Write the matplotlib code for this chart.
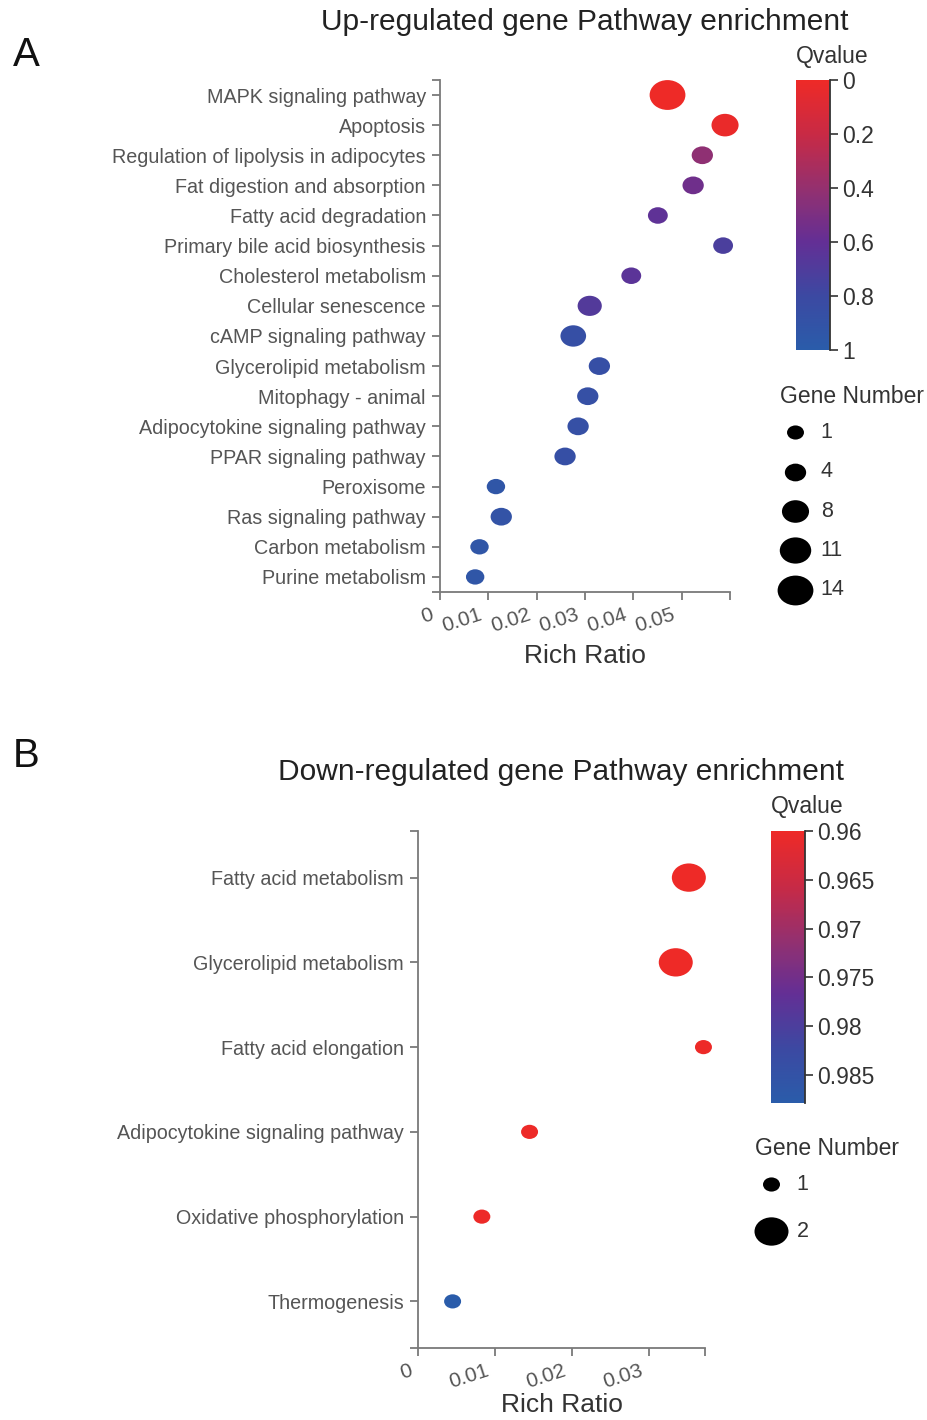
import numpy as np
import matplotlib
matplotlib.use("Agg")
from matplotlib import pyplot as plt
from matplotlib.colors import LinearSegmentedColormap, Normalize
from matplotlib.cm import ScalarMappable
from matplotlib.path import Path
from matplotlib.transforms import ScaledTranslation

plt.rcParams['font.family'] = ['Liberation Sans', 'DejaVu Sans']

# ---- panel A: up-regulated ----
up_pathways = ['MAPK signaling pathway', 'Apoptosis', 'Regulation of lipolysis in adipocytes',
               'Fat digestion and absorption', 'Fatty acid degradation',
               'Primary bile acid biosynthesis', 'Cholesterol metabolism', 'Cellular senescence',
               'cAMP signaling pathway', 'Glycerolipid metabolism', 'Mitophagy - animal',
               'Adipocytokine signaling pathway', 'PPAR signaling pathway', 'Peroxisome',
               'Ras signaling pathway', 'Carbon metabolism', 'Purine metabolism']
up_rich = [0.0471, 0.0590, 0.0543, 0.0524, 0.0451, 0.0586, 0.0396, 0.0310, 0.0276,
           0.0330, 0.0306, 0.0286, 0.0259, 0.0116, 0.0127, 0.0082, 0.0073]
up_qvalue = [0.0, 0.02, 0.42, 0.55, 0.62, 0.72, 0.64, 0.68, 0.86, 0.86, 0.87, 0.87,
             0.86, 0.93, 0.9, 0.93, 0.93]
up_genes = [14, 8, 4, 4, 3, 3, 3, 6, 7, 4, 4, 4, 4, 2, 4, 2, 2]
up_legend_genes = [1, 4, 8, 11, 14]
up_xticks = [0, 0.01, 0.02, 0.03, 0.04, 0.05]
up_cbar_ticks = [0, 0.2, 0.4, 0.6, 0.8, 1]

# ---- panel B: down-regulated ----
down_pathways = ['Fatty acid metabolism', 'Glycerolipid metabolism', 'Fatty acid elongation',
                 'Adipocytokine signaling pathway', 'Oxidative phosphorylation', 'Thermogenesis']
down_rich = [0.0352, 0.0335, 0.0371, 0.0145, 0.0083, 0.0045]
down_qvalue = [0.9601, 0.9601, 0.9602, 0.9602, 0.9603, 0.9878]
down_genes = [2, 2, 1, 1, 1, 1]
down_legend_genes = [1, 2]
down_xticks = [0, 0.01, 0.02, 0.03]
down_cbar_ticks = [0.96, 0.965, 0.97, 0.975, 0.98, 0.985]

cmap = LinearSegmentedColormap.from_list(
    'qv', [(0, '#ee2a27'), (0.2, '#c82a45'), (0.4, '#94306f'), (0.6, '#632f95'),
           (0.8, '#3c49a2'), (1, '#2a5caa')])

# slightly wide oval marker, like the original
circ = Path.unit_circle()
oval = Path(circ.vertices * [1.2, 1.0], circ.codes)

GRAY = '#555555'
SPINE = '#7a7a7a'
DARK = '#333333'


def up_size(n):
    w = 15.5 + 1.45 * np.asarray(n, dtype=float)   # width in px
    return (w * 0.72) ** 2


def down_size(n):
    w = 17.0 * np.asarray(n, dtype=float)
    return (w * 0.72) ** 2


def draw_panel(ax, cax, pathways, rich, qv, genes, xticks, xmax, ypad, norm,
               cbar_ticks, size_fn, legend_genes, leg_anchor, leg_spacing, xpad):
    fig = ax.figure
    y = np.arange(len(pathways))
    ax.scatter(rich, y, s=size_fn(genes), c=qv, cmap=cmap, norm=norm,
               marker=oval, linewidths=0, zorder=3, clip_on=False)
    ax.set_xlim(0, xmax)
    ax.set_ylim(len(pathways) - 1 + ypad, -ypad)
    for s in ['top', 'right']:
        ax.spines[s].set_visible(False)
    for s in ['left', 'bottom']:
        ax.spines[s].set_color(SPINE)
        ax.spines[s].set_linewidth(1.3)
    ax.tick_params(axis='both', length=6, width=1.3, color=SPINE)
    ax.tick_params(axis='y', pad=4)
    # outer ticks at the ends like a d3 axis
    ax.set_yticks(list(y) + [-ypad, len(pathways) - 1 + ypad])
    ax.set_yticklabels(pathways + ['', ''], fontsize=14.2, color=GRAY)
    ax.set_xticks(xticks + [xmax])
    ax.set_xticklabels([f'{t:g}' for t in xticks] + [''], fontsize=15, color=GRAY,
                       rotation=18, ha='right', rotation_mode='anchor')
    shift = ScaledTranslation(-7 / 72, 0, fig.dpi_scale_trans)
    for lab in ax.get_xticklabels():
        lab.set_transform(lab.get_transform() + shift)
    ax.set_xlabel('Rich Ratio', fontsize=19, color=DARK, labelpad=xpad)

    cb = fig.colorbar(ScalarMappable(norm=norm, cmap=cmap), cax=cax)
    cb.outline.set_visible(False)
    cax.spines['right'].set_visible(True)
    cax.spines['right'].set_color(DARK)
    cax.spines['right'].set_linewidth(1.3)
    cax.invert_yaxis()
    cb.set_ticks(cbar_ticks)
    cb.set_ticklabels([f'{t:g}' for t in cbar_ticks])
    cax.tick_params(labelsize=16.5, length=6, width=1.2, colors=DARK, pad=3)

    handles = [ax.scatter([], [], s=size_fn(g), marker=oval, color='black', linewidths=0)
               for g in legend_genes]
    leg = fig.legend(handles, [str(g) for g in legend_genes],
                     loc='upper left', bbox_to_anchor=leg_anchor, frameon=False,
                     fontsize=15.5, labelspacing=leg_spacing,
                     handlelength=1.6, handletextpad=0.4,
                     borderaxespad=0, borderpad=0)
    for t in leg.get_texts():
        t.set_color(DARK)


fig = plt.figure(figsize=(9.28, 14.2), dpi=100)

ax1 = fig.add_axes([0.474, 0.5831, 0.3125, 0.3606])
cax1 = fig.add_axes([0.8578, 0.7535, 0.0366, 0.190])
draw_panel(ax1, cax1, up_pathways, up_rich, up_qvalue, up_genes, up_xticks, 0.06, 0.5,
           Normalize(0, 1), up_cbar_ticks, up_size, up_legend_genes, (0.838, 0.7028), 0.85, 6)

ax2 = fig.add_axes([0.4504, 0.0507, 0.3093, 0.3641])
cax2 = fig.add_axes([0.8308, 0.2232, 0.0366, 0.1915])
draw_panel(ax2, cax2, down_pathways, down_rich, down_qvalue, down_genes, down_xticks, 0.0373,
           0.55, Normalize(0.96, 0.9879), down_cbar_ticks, down_size, down_legend_genes,
           (0.812, 0.1732), 1.2, 1)

fig.text(0.630, 0.9845, 'Up-regulated gene Pathway enrichment', fontsize=21.5,
         ha='center', va='center', color='#222222')
fig.text(0.6045, 0.4563, 'Down-regulated gene Pathway enrichment', fontsize=21.5,
         ha='center', va='center', color='#222222')
fig.text(0.028, 0.9613, 'A', fontsize=29, ha='center', va='center', color='#111111')
fig.text(0.028, 0.4673, 'B', fontsize=29, ha='center', va='center', color='#111111')
fig.text(0.8966, 0.960, 'Qvalue', fontsize=16.5, ha='center', va='center', color=DARK)
fig.text(0.8696, 0.4317, 'Qvalue', fontsize=16.5, ha='center', va='center', color=DARK)
fig.text(0.8405, 0.7211, 'Gene Number', fontsize=16.5, ha='left', va='center', color=DARK)
fig.text(0.8136, 0.1915, 'Gene Number', fontsize=16.5, ha='left', va='center', color=DARK)

fig.savefig('out.png', dpi=100)
